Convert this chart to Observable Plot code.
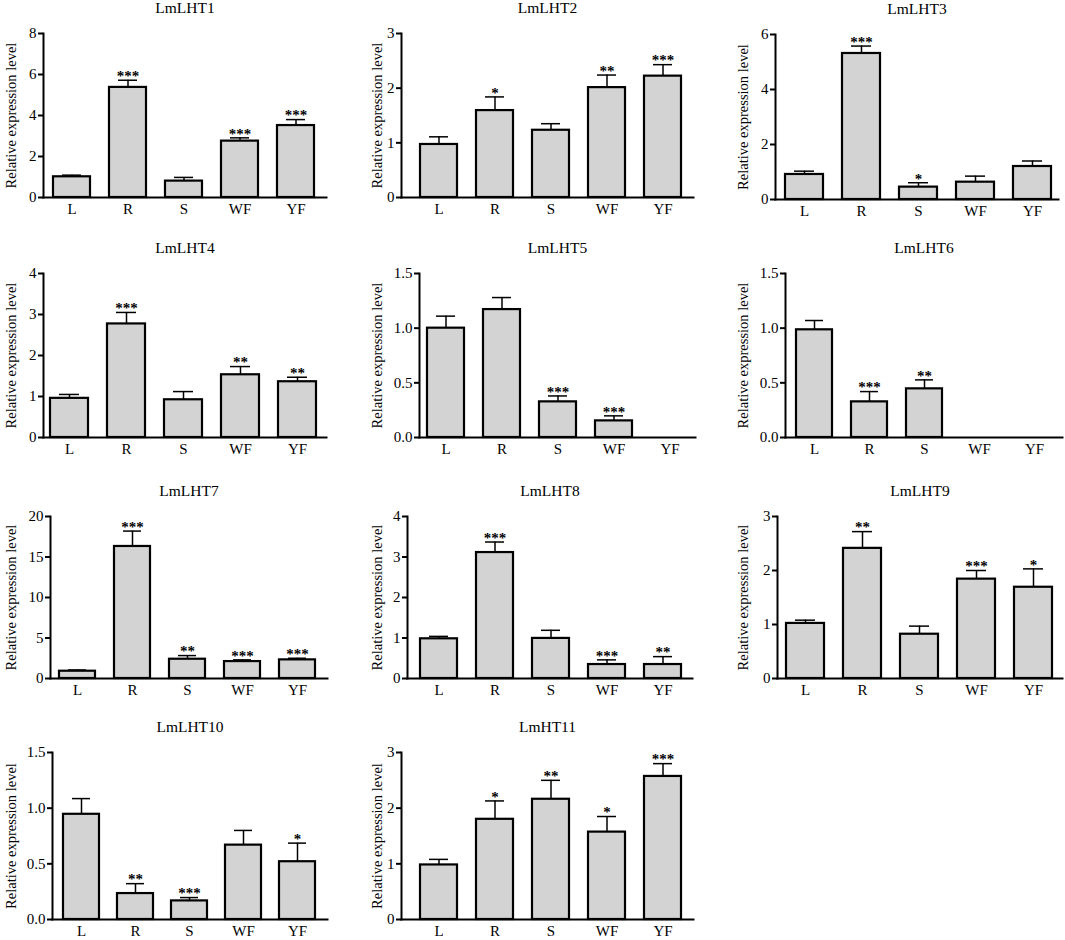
<!DOCTYPE html>
<html>
<head>
<meta charset="utf-8">
<script src="https://cdn.jsdelivr.net/npm/d3@7"></script>
<script src="https://cdn.jsdelivr.net/npm/@observablehq/plot@0.6"></script>
<style>
  html, body { margin: 0; padding: 0; background: #fff; overflow: hidden; }
  #wrap { position: relative; width: 1065px; height: 940px; background: #fff; }
  #wrap > div { position: absolute; }
</style>
</head>
<body>
<div id="wrap"></div>
<script>
// ---------- data ----------
const categories = ["L", "R", "S", "WF", "YF"];
const genes = ["LmLHT1", "LmLHT2", "LmLHT3", "LmLHT4", "LmLHT5", "LmLHT6",
               "LmLHT7", "LmLHT8", "LmLHT9", "LmLHT10", "LmHT11"];
const means = [
  [1.01, 5.37, 0.80, 2.75, 3.51],
  [0.97, 1.59, 1.23, 2.01, 2.22],
  [0.91, 5.31, 0.45, 0.63, 1.20],
  [0.955, 2.77, 0.92, 1.53, 1.36],
  [1.00, 1.17, 0.326, 0.152, 0],
  [0.985, 0.326, 0.445, 0, 0],
  [0.90, 16.3, 2.38, 2.09, 2.30],
  [0.98, 3.11, 0.99, 0.345, 0.345],
  [1.02, 2.41, 0.82, 1.84, 1.69],
  [0.945, 0.233, 0.167, 0.668, 0.519],
  [0.98, 1.80, 2.16, 1.57, 2.57]
];
const errors = [
  [0.08, 0.35, 0.18, 0.16, 0.29],
  [0.14, 0.25, 0.12, 0.23, 0.21],
  [0.12, 0.27, 0.16, 0.22, 0.20],
  [0.095, 0.28, 0.20, 0.20, 0.11],
  [0.11, 0.11, 0.054, 0.046, 0],
  [0.085, 0.094, 0.082, 0, 0],
  [0.15, 1.9, 0.45, 0.21, 0.20],
  [0.06, 0.26, 0.20, 0.115, 0.195],
  [0.06, 0.31, 0.15, 0.16, 0.34],
  [0.141, 0.089, 0.03, 0.132, 0.167],
  [0.10, 0.33, 0.34, 0.28, 0.23]
];
const stars = [
  ["", "***", "", "***", "***"],
  ["", "*", "", "**", "***"],
  ["", "***", "*", "", ""],
  ["", "***", "", "**", "**"],
  ["", "", "***", "***", ""],
  ["", "***", "**", "", ""],
  ["", "***", "**", "***", "***"],
  ["", "***", "", "***", "**"],
  ["", "**", "", "***", "*"],
  ["", "**", "***", "", "*"],
  ["", "*", "**", "*", "***"]
];
const yMax = [8, 3, 6, 4, 1.5, 1.5, 20, 4, 3, 1.5, 3];
const yTicks = [
  [0, 2, 4, 6, 8],
  [0, 1, 2, 3],
  [0, 2, 4, 6],
  [0, 1, 2, 3, 4],
  [0, 0.5, 1, 1.5],
  [0, 0.5, 1, 1.5],
  [0, 5, 10, 15, 20],
  [0, 1, 2, 3, 4],
  [0, 1, 2, 3],
  [0, 0.5, 1, 1.5],
  [0, 1, 2, 3]
];
const yTickDecimals = [0, 0, 0, 0, 1, 1, 0, 0, 0, 1, 0];
const yLabel = "Relative expression level";

// ---------- layout (pixels): axisX, frameRight, frameTop, frameBottom, firstCenter, lastCenter, labelX ----------
const layout = [
  [43, 326, 33, 197, 77.5, 289.5, 11],
  [401, 693, 33, 197, 444, 656, 377],
  [775, 1058, 34, 199, 810, 1026, 743],
  [43, 326, 273, 437, 77, 289.5, 11],
  [419, 695, 273, 437, 453, 662, 377],
  [785, 1062, 273, 437, 821, 1027, 743],
  [50, 327, 516, 678, 84, 291, 11],
  [407, 692, 516, 678, 445, 656, 377],
  [777, 1062, 516, 678, 812, 1025, 743],
  [52, 327, 752, 919, 86, 291, 11],
  [401, 693, 752, 919, 444, 656, 377]
];

const FONT = "'Liberation Serif', 'Times New Roman', serif";
const wrap = document.getElementById("wrap");

genes.forEach((gene, i) => {
  const [axisX, frameRight, frameTop, frameBottom, c0, c4, labelX] = layout[i];
  const svgLeft = labelX - 12;
  const svgTop = frameTop - 40;
  const mTop = 40, mBottom = 21, mRight = 3;
  const width = frameRight + mRight - svgLeft;
  const height = frameBottom + mBottom - svgTop;
  const mLeft = axisX - svgLeft;
  const step = (c4 - c0) / 4;

  const rows = categories.map((c, j) => ({
    cat: c, mean: means[i][j], top: means[i][j] + errors[i][j], star: stars[i][j]
  }));
  const present = rows.filter(d => d.mean > 0);
  const fmt = d3.format("." + yTickDecimals[i] + "f");

  const chart = Plot.plot({
    width, height,
    marginLeft: mLeft, marginRight: mRight, marginTop: mTop, marginBottom: mBottom,
    style: {fontFamily: FONT, fontSize: "15px", color: "#000", background: "transparent", overflow: "visible"},
    x: {type: "band", domain: categories, range: [c0 - step / 2 - svgLeft, c4 + step / 2 - svgLeft],
        paddingInner: 0.34, paddingOuter: 0, align: 0.5},
    y: {domain: [0, yMax[i]]},
    marks: [
      Plot.ruleX(present, {x: "cat", y1: "mean", y2: "top", stroke: "#000", strokeWidth: 1.5}),
      Plot.tickY(present, {x: "cat", y: "top", insetLeft: 9, insetRight: 9, stroke: "#000", strokeWidth: 1.5}),
      Plot.barY(present, {x: "cat", y: "mean", fill: "#d3d3d3", stroke: "#000", strokeWidth: 2.2}),
      Plot.text(present.filter(d => d.star), {x: "cat", y: "top", text: "star", dy: -4,
        lineAnchor: "middle", fontSize: 15, fontWeight: "bold", fill: "#000"}),
      Plot.frame({anchor: "left", stroke: "#000", strokeWidth: 2}),
      Plot.frame({anchor: "bottom", stroke: "#000", strokeWidth: 2}),
      Plot.axisY({ticks: yTicks[i], tickFormat: fmt, tickSize: 5, tickPadding: 2,
        strokeWidth: 2, label: null, fontSize: 15}),
      Plot.axisX({tickSize: 0, tickPadding: 6, label: null, fontSize: 15}),
      Plot.text([yLabel], {frameAnchor: "left", rotate: -90, dx: -(axisX - labelX),
        textAnchor: "middle", lineAnchor: "middle", fontSize: 14.5, fill: "#000"}),
      Plot.text([gene], {frameAnchor: "top", dy: -25, lineAnchor: "middle",
        textAnchor: "middle", fontSize: 15.5, fill: "#000"})
    ]
  });
  const holder = document.createElement("div");
  holder.style.left = svgLeft + "px";
  holder.style.top = svgTop + "px";
  holder.appendChild(chart);
  wrap.appendChild(holder);
});
</script>
</body>
</html>
